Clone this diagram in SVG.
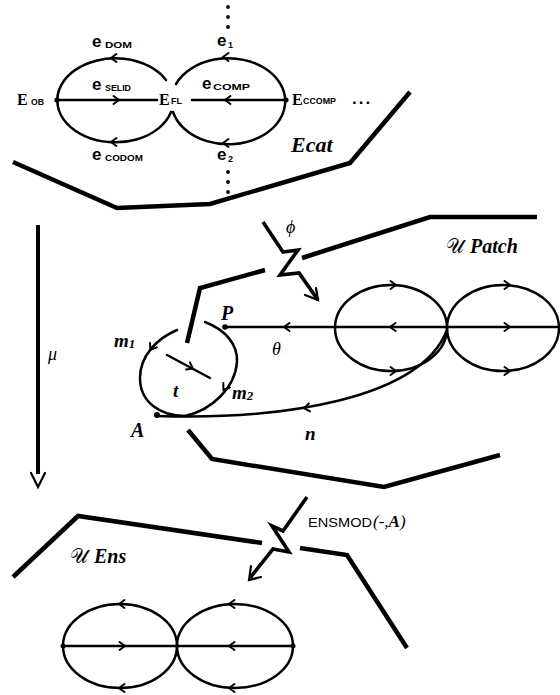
<svg xmlns="http://www.w3.org/2000/svg" xmlns:xlink="http://www.w3.org/1999/xlink" width="560" height="695" viewBox="0 0 560 695">
<style>
.thin{fill:none;stroke:#000;stroke-width:2.5;stroke-linecap:round;stroke-linejoin:round}
.thick{fill:none;stroke:#000;stroke-width:4.5;stroke-linejoin:miter;stroke-linecap:butt}
.bolt{fill:none;stroke:#000;stroke-width:3.6;stroke-linejoin:miter}
.head{fill:none;stroke:#000;stroke-width:2.2;stroke-linecap:round;stroke-linejoin:miter}
.dot{fill:#000}
.e{font-family:"Liberation Sans",Arial,sans-serif;font-weight:bold;font-size:17px}
.sub{font-family:"Liberation Sans",Arial,sans-serif;font-weight:bold;font-size:9px}
.E{font-family:"Liberation Serif","Times New Roman",serif;font-weight:bold;font-size:16px}
.bi{font-family:"Liberation Serif","Times New Roman",serif;font-weight:bold;font-style:italic}
.it{font-family:"Liberation Serif","Times New Roman",serif;font-style:italic}
.scr{font-family:"DejaVu Serif","DejaVu Sans","Noto Sans",serif;font-style:normal;font-weight:normal}
.sans{font-family:"Liberation Sans",Arial,sans-serif}
</style>
<defs>
<path id="chev" d="M-4.5,-4 L1,0 L-4.5,4" fill="none" stroke="#000" stroke-width="2" stroke-linecap="round" stroke-linejoin="miter"/>
</defs>

<!-- Category boundaries -->
<g id="ecat">
<polyline class="thick" points="13,162 117,208 210,204 350,163 410,92"/>
<text class="bi" x="291" y="152" font-size="22">Ecat</text>
</g>
<g id="upatch">
<polyline class="thick" points="187,343 200,288 265,270"/>
<polyline class="thick" points="302,258 430,217 537,217"/>
<polyline class="thick" points="188,430 212,459 384,487 500,455"/>
<text x="446" y="253" font-size="20"><tspan class="scr">𝒰</tspan><tspan class="bi" dx="6">Patch</tspan></text>
</g>
<g id="uens">
<polyline class="thick" points="13,577 78,516 262,543"/>
<polyline class="thick" points="300,548 347,555 407,648"/>
<text x="70" y="563" font-size="20"><tspan class="scr">𝒰</tspan><tspan class="bi" dx="6">Ens</tspan></text>
</g>

<!-- Top sketch nodes -->
<g id="E_OB">
<circle class="dot" cx="57" cy="100" r="2.6"/>
<text class="E" x="17" y="105">E</text><text class="sub" x="31" y="105" textLength="13" lengthAdjust="spacingAndGlyphs">OB</text>
</g>
<g id="E_FL">
<text class="E" x="159" y="105">E</text><text class="sub" x="171" y="104" textLength="11" lengthAdjust="spacingAndGlyphs">FL</text>
</g>
<g id="E_CCOMP">
<circle class="dot" cx="286" cy="100" r="2.6"/>
<text class="E" x="292" y="105">E</text><text class="sub" x="303" y="104" textLength="33" lengthAdjust="spacingAndGlyphs">CCOMP</text>
<text class="e" x="352" y="104" letter-spacing="2">...</text>
</g>
<g id="vdots">
<circle class="dot" cx="228" cy="7" r="1.9"/><circle class="dot" cx="228" cy="17" r="1.9"/><circle class="dot" cx="228" cy="27" r="1.9"/>
<circle class="dot" cx="228" cy="172" r="1.9"/><circle class="dot" cx="228" cy="182" r="1.9"/><circle class="dot" cx="228" cy="192" r="1.9"/>
</g>

<!-- Patch nodes -->
<g id="P">
<circle class="dot" cx="225" cy="327" r="2.8"/>
<text class="bi" x="221" y="320" font-size="20">P</text>
</g>
<g id="A">
<circle class="dot" cx="157" cy="415" r="3"/>
<text class="bi" x="131" y="437" font-size="20">A</text>
</g>

<!-- Connectors -->
<g id="connectors">
<!-- top sketch -->
<path class="thin" d="M166,80 A58,42 0 1 0 171,112"/>
<path class="thin" d="M176,84 A57,43 0 1 1 173,112"/>
<line class="thin" x1="57" y1="100" x2="157" y2="100"/>
<line class="thin" x1="192" y1="100" x2="286" y2="100"/>
<use xlink:href="#chev" transform="translate(118,100)"/>
<use xlink:href="#chev" transform="translate(226,100) rotate(180)"/>
<use xlink:href="#chev" transform="translate(112,58) rotate(180)"/>
<use xlink:href="#chev" transform="translate(112,142) rotate(180)"/>
<use xlink:href="#chev" transform="translate(224,57) rotate(180)"/>
<use xlink:href="#chev" transform="translate(224,143) rotate(180)"/>

<!-- mu -->
<line x1="38" y1="225" x2="38" y2="474" stroke="#000" stroke-width="4"/>
<polyline class="head" points="31,473 38,487 45,473"/>

<!-- phi functor -->
<polyline class="bolt" points="263,222 283,252 298,250 280,275 299,273 318,300"/>
<polyline class="head" points="316,288 318,300 305,295"/>

<!-- ENSMOD functor -->
<polyline class="bolt" points="307,497 283,531 272,526 289,552 273,549 250,578"/>
<polyline class="head" points="251,566 249,580 261,577"/>

<!-- patch diagram -->
<line class="thin" x1="225" y1="327" x2="560" y2="327"/>
<ellipse class="thin" cx="391" cy="328" rx="56" ry="43"/>
<ellipse class="thin" cx="503" cy="328" rx="56" ry="43"/>
<use xlink:href="#chev" transform="translate(285,327) rotate(180)"/>
<use xlink:href="#chev" transform="translate(391,327) rotate(180)"/>
<use xlink:href="#chev" transform="translate(509,327)"/>
<use xlink:href="#chev" transform="translate(395,285)"/>
<use xlink:href="#chev" transform="translate(395,371)"/>
<use xlink:href="#chev" transform="translate(509,285)"/>
<use xlink:href="#chev" transform="translate(509,371)"/>
<path class="thin" d="M157,416 C280,420 420,400 447,330"/>
<use xlink:href="#chev" transform="translate(305,408) rotate(172)"/>
<path class="thin" d="M177,330 C158,338 140,355 140,378 C140,402 160,416 185,416"/>
<use xlink:href="#chev" transform="translate(151,349) rotate(122)"/>
<path class="thin" d="M205,322 C226,330 238,345 237,362 C235,388 212,410 185,416"/>
<use xlink:href="#chev" transform="translate(224,389) rotate(125)"/>
<line class="thin" x1="167" y1="355" x2="210" y2="378"/>
<use xlink:href="#chev" transform="translate(192,368) rotate(28)"/>

<!-- bottom ens diagram -->
<ellipse class="thin" cx="120" cy="646" rx="57" ry="42"/>
<ellipse class="thin" cx="235" cy="646" rx="58" ry="42"/>
<line class="thin" x1="63" y1="646" x2="293" y2="646"/>
<circle class="dot" cx="63" cy="646" r="2.5"/>
<circle class="dot" cx="293" cy="646" r="2.5"/>
<use xlink:href="#chev" transform="translate(124,646)"/>
<use xlink:href="#chev" transform="translate(230,646) rotate(180)"/>
<use xlink:href="#chev" transform="translate(120,604) rotate(180)"/>
<use xlink:href="#chev" transform="translate(230,604) rotate(180)"/>
<use xlink:href="#chev" transform="translate(120,688) rotate(180)"/>
<use xlink:href="#chev" transform="translate(230,688) rotate(180)"/>
</g>

<!-- Labels -->
<g id="labels">
<text class="e" x="92" y="47">e</text><text class="sub" x="105" y="48" textLength="27" lengthAdjust="spacingAndGlyphs">DOM</text>
<text class="e" x="217" y="46">e</text><text class="sub" x="228" y="48">1</text>
<text class="e" x="92" y="90">e</text><text class="sub" x="105" y="91" textLength="26" lengthAdjust="spacingAndGlyphs">SELID</text>
<text class="e" x="202" y="89">e</text><text class="sub" x="213" y="90" textLength="37" lengthAdjust="spacingAndGlyphs">COMP</text>
<text class="e" x="92" y="160">e</text><text class="sub" x="105" y="161" textLength="38" lengthAdjust="spacingAndGlyphs">CODOM</text>
<text class="e" x="217" y="160">e</text><text class="sub" x="228" y="162">2</text>
<text class="it" x="48" y="360" font-size="18">μ</text>
<text class="it" x="286" y="233" font-size="18">ϕ</text>
<text class="it" x="272" y="355" font-size="18">θ</text>
<text class="bi" x="305" y="440" font-size="19">n</text>
<text class="bi" x="114" y="347" font-size="19">m<tspan font-size="13" dy="1">1</tspan></text>
<text class="bi" x="232" y="399" font-size="19">m<tspan font-size="13" dy="1">2</tspan></text>
<text class="bi" x="173" y="397" font-size="19">t</text>
<text class="sans" x="308" y="527" font-size="13" textLength="64" lengthAdjust="spacingAndGlyphs">ENSMOD</text>
<text x="373" y="527" font-size="17"><tspan class="it">(-,</tspan><tspan class="bi">A</tspan><tspan class="it">)</tspan></text>
</g>
</svg>
